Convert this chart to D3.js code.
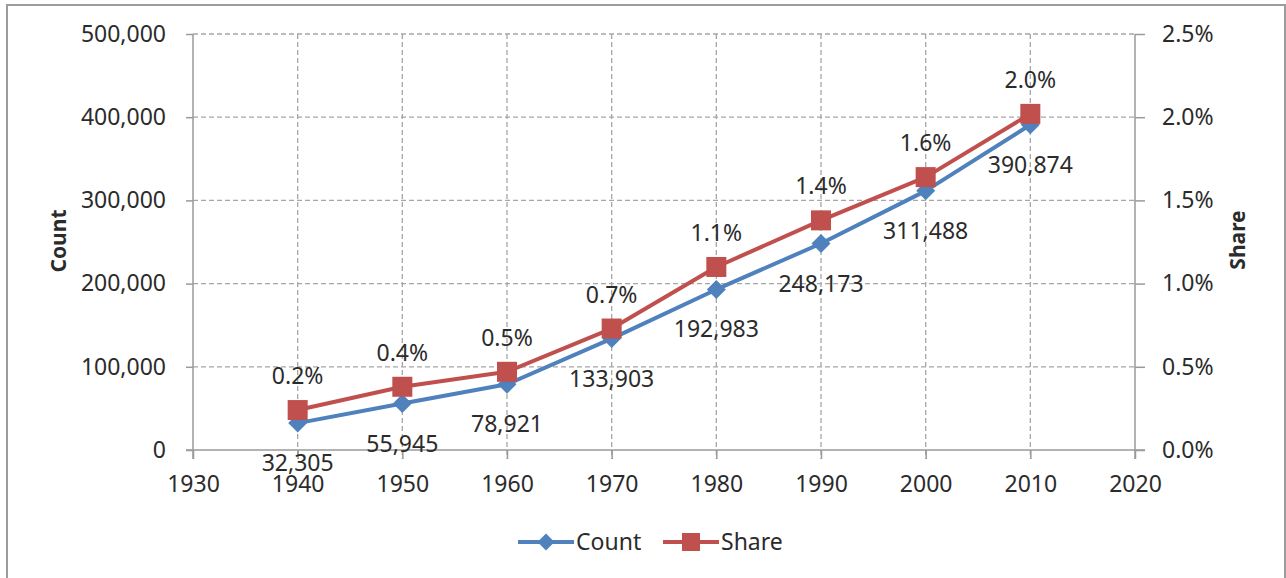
<!DOCTYPE html>
<html>
<head>
<meta charset="utf-8">
<script src="https://cdn.jsdelivr.net/npm/d3@7"></script>
<style>
  html, body { margin: 0; padding: 0; background: #fff; }
  svg { display: block; }
  text { font-family: "Noto Sans", "Open Sans", sans-serif; fill: #2b2b2b; }
</style>
</head>
<body>
<div id="chart"></div>
<script>
// ---- data ----
const years = [1940, 1950, 1960, 1970, 1980, 1990, 2000, 2010];
const countValues = [32305, 55945, 78921, 133903, 192983, 248173, 311488, 390874];
const shareValues = [0.24, 0.38, 0.47, 0.73, 1.10, 1.38, 1.64, 2.02]; // percent
const xTicks = [1930, 1940, 1950, 1960, 1970, 1980, 1990, 2000, 2010, 2020];
const leftTicks = [0, 100000, 200000, 300000, 400000, 500000];
const rightTicks = [0, 0.5, 1.0, 1.5, 2.0, 2.5];
const seriesNames = ["Count", "Share"];

const W = 1286, H = 578;
const pLeft = 193, pRight = 1135, pTop = 34, pBottom = 450;
const blue = "#4F81BD", red = "#C0504D";
const axisCol = "#9a9a9a", gridCol = "#a6a6a6";
const fs = 23;

const svg = d3.select("#chart").append("svg").attr("width", W).attr("height", H);

// outer frame
svg.append("path")
  .attr("d", `M7,${H} L7,5 L1285,5 L1285,${H}`)
  .attr("fill", "none").attr("stroke", "#9c9c9c").attr("stroke-width", 2);

const x = d3.scaleLinear().domain([1930, 2020]).range([pLeft, pRight]);
const yL = d3.scaleLinear().domain([0, 500000]).range([pBottom, pTop]);
const yR = d3.scaleLinear().domain([0, 2.5]).range([pBottom, pTop]);

// gridlines
const grid = svg.append("g").attr("stroke", gridCol).attr("stroke-width", 1.3)
  .attr("stroke-dasharray", "5,3").attr("fill", "none");
grid.selectAll("line.h").data(leftTicks.filter(d => d > 0)).join("line")
  .attr("x1", pLeft).attr("x2", pRight).attr("y1", d => yL(d)).attr("y2", d => yL(d));
grid.selectAll("line.v").data(xTicks.filter(d => d > 1930 && d < 2020)).join("line")
  .attr("y1", pTop).attr("y2", pBottom + 9).attr("x1", d => x(d)).attr("x2", d => x(d));

function styleAxis(g) {
  g.select(".domain").attr("stroke", axisCol).attr("stroke-width", 1.5);
  g.selectAll(".tick line").attr("stroke", axisCol).attr("stroke-width", 1.5);
  g.selectAll("text").style("font-size", fs + "px").attr("fill", "#2b2b2b")
    .style("font-family", '"Noto Sans", sans-serif');
}

// left axis
const gL = svg.append("g").attr("transform", `translate(${pLeft},0)`)
  .call(d3.axisLeft(yL).tickValues(leftTicks).tickFormat(d3.format(",")).tickSize(7).tickSizeOuter(0).tickPadding(20));
styleAxis(gL);
gL.select(".domain").attr("d", `M0,${pTop}V${pBottom + 9}`);

// right axis
const gR = svg.append("g").attr("transform", `translate(${pRight},0)`)
  .call(d3.axisRight(yR).tickValues(rightTicks).tickFormat(d => d.toFixed(1) + "%").tickSize(10).tickSizeOuter(0).tickPadding(17));
styleAxis(gR);
gR.select(".domain").attr("d", `M0,${pTop}V${pBottom + 9}`);

// bottom axis
const gB = svg.append("g").attr("transform", `translate(0,${pBottom})`)
  .call(d3.axisBottom(x).tickValues(xTicks).tickFormat(d3.format("d")).tickSize(9).tickSizeOuter(0).tickPadding(17));
styleAxis(gB);
gB.select(".domain").attr("d", `M${pLeft - 7},0H${pRight + 10}`);

// axis titles
svg.append("text").attr("transform", `translate(66,241) rotate(-90)`)
  .attr("text-anchor", "middle").style("font-size", "21px").style("font-weight", "bold")
  .attr("fill", "#000").text("Count");
svg.append("text").attr("transform", `translate(1245,240) rotate(-90)`)
  .attr("text-anchor", "middle").style("font-size", "21px").style("font-weight", "bold")
  .attr("fill", "#000").text("Share");

const countPts = years.map((yr, i) => [x(yr), yL(countValues[i])]);
const sharePts = years.map((yr, i) => [x(yr), yR(shareValues[i])]);
const line = d3.line();
const diamond = s => `M0,${-s}L${s},0L0,${s}L${-s},0Z`;

// count series
svg.append("path").attr("d", line(countPts)).attr("fill", "none")
  .attr("stroke", blue).attr("stroke-width", 4).attr("stroke-linejoin", "round");
svg.selectAll("path.dm").data(countPts).join("path").attr("class", "dm")
  .attr("transform", d => `translate(${d[0]},${d[1]})`).attr("d", diamond(9.5)).attr("fill", blue);

// share series
svg.append("path").attr("d", line(sharePts)).attr("fill", "none")
  .attr("stroke", red).attr("stroke-width", 4).attr("stroke-linejoin", "round");
svg.selectAll("rect.sq").data(sharePts).join("rect").attr("class", "sq")
  .attr("x", d => d[0] - 10).attr("y", d => d[1] - 10).attr("width", 20).attr("height", 20).attr("fill", red);

// data labels
svg.selectAll("text.cl").data(years).join("text").attr("class", "cl")
  .attr("x", (d, i) => x(d)).attr("y", (d, i) => yL(countValues[i]) + 40)
  .attr("dy", "0.35em").attr("text-anchor", "middle").style("font-size", fs + "px")
  .text((d, i) => d3.format(",")(countValues[i]));
svg.selectAll("text.sl").data(years).join("text").attr("class", "sl")
  .attr("x", (d, i) => x(d)).attr("y", (d, i) => yR(shareValues[i]) - 34)
  .attr("dy", "0.35em").attr("text-anchor", "middle").style("font-size", fs + "px")
  .text((d, i) => shareValues[i].toFixed(1) + "%");

// legend
const legY = 542;
const lg = svg.append("g");
lg.append("line").attr("x1", 518).attr("x2", 574).attr("y1", legY).attr("y2", legY).attr("stroke", blue).attr("stroke-width", 4);
lg.append("path").attr("transform", `translate(546,${legY})`).attr("d", diamond(8.5)).attr("fill", blue);
lg.append("text").attr("x", 576).attr("y", legY).attr("dy", "0.35em").style("font-size", fs + "px").text(seriesNames[0]);
lg.append("line").attr("x1", 663).attr("x2", 719).attr("y1", legY).attr("y2", legY).attr("stroke", red).attr("stroke-width", 4);
lg.append("rect").attr("x", 682).attr("y", legY - 9).attr("width", 18).attr("height", 18).attr("fill", red);
lg.append("text").attr("x", 721).attr("y", legY).attr("dy", "0.35em").style("font-size", fs + "px").text(seriesNames[1]);
</script>
</body>
</html>
